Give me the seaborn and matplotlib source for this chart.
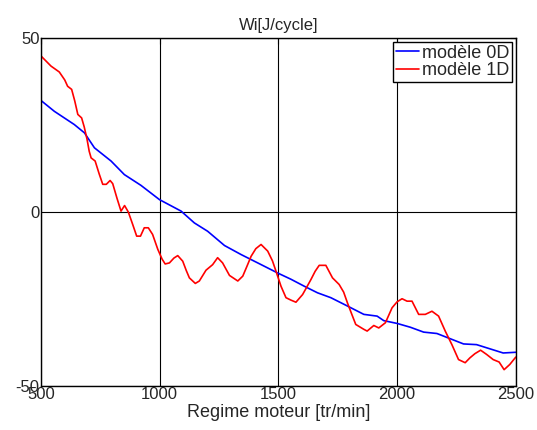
import numpy as np
import pandas as pd
import matplotlib
matplotlib.use("Agg")
import matplotlib.pyplot as plt
import seaborn as sns

# ---------------------------------------------------------
# DATA
# ---------------------------------------------------------

rpm_0d = [500, 556, 640, 683, 725, 795, 851, 921, 999, 1090, 1146, 1202,
          1273, 1343, 1413, 1500, 1553, 1609, 1665, 1721, 1791, 1860, 1916,
          1944, 2000, 2056, 2112, 2168, 2224, 2280, 2335, 2391, 2447, 2500]
wi_0d = [32.1, 29.0, 25.2, 22.8, 18.5, 14.7, 10.8, 7.7, 3.6, 0.3, -3.1, -5.5,
         -9.6, -12.2, -14.6, -17.6, -19.3, -21.3, -23.2, -24.6, -27.0, -29.4,
         -29.9, -31.2, -32.0, -33.1, -34.5, -34.9, -36.4, -37.9, -38.1, -39.3,
         -40.5, -40.3]

rpm_1d = [500, 542, 577, 600, 612, 629, 642, 655, 671, 682, 694, 703, 711,
          728, 745, 760, 775, 791, 802, 820, 837, 852, 868, 886, 903, 919,
          935, 952, 970, 992, 1010, 1023, 1041, 1060, 1076, 1097, 1112, 1125,
          1150, 1167, 1195, 1223, 1244, 1265, 1294, 1329, 1350, 1368, 1385,
          1405, 1427, 1455, 1475, 1490, 1511, 1532, 1553, 1574, 1602, 1620,
          1637, 1655, 1672, 1700, 1728, 1756, 1775, 1791, 1810, 1826, 1860,
          1874, 1902, 1923, 1951, 1979, 2000, 2021, 2042, 2063, 2091, 2119,
          2147, 2175, 2203, 2231, 2259, 2287, 2307, 2328, 2352, 2377, 2405,
          2430, 2451, 2475, 2500]
wi_1d = [44.9, 42.0, 40.3, 38.0, 36.2, 35.3, 32.0, 28.1, 27.1, 24.5, 20.9,
         17.5, 15.6, 14.7, 11.0, 8.0, 8.0, 9.1, 8.2, 4.0, 0.3, 1.9, 0.0,
         -3.5, -6.9, -6.9, -4.5, -4.5, -6.4, -10.7, -13.5, -14.9, -14.6,
         -13.2, -12.5, -14.1, -16.8, -18.9, -20.5, -19.8, -16.7, -15.1, -13.1,
         -14.6, -18.2, -19.8, -18.4, -15.5, -12.7, -10.5, -9.3, -11.2, -14.0,
         -17.0, -21.3, -24.6, -25.3, -25.9, -23.7, -21.5, -19.4, -17.0, -15.3,
         -15.3, -18.9, -20.8, -23.0, -26.1, -29.5, -32.3, -33.7, -34.2, -32.6,
         -33.3, -31.8, -27.5, -25.8, -24.9, -25.6, -25.6, -29.4, -29.4, -28.5,
         -29.9, -34.2, -38.1, -42.4, -43.3, -41.9, -40.7, -39.7, -40.9, -42.4,
         -43.1, -45.3, -43.8, -41.7]

x_ticks = [500, 1000, 1500, 2000, 2500]
y_ticks = [-50, 0, 50]

df0 = pd.DataFrame({"rpm": rpm_0d, "wi": wi_0d})
df1 = pd.DataFrame({"rpm": rpm_1d, "wi": wi_1d})

# ---------------------------------------------------------
# PLOT
# ---------------------------------------------------------

sns.set_style("white")
plt.rcParams["font.family"] = ["Liberation Sans", "DejaVu Sans"]
plt.rcParams["axes.unicode_minus"] = False

fig = plt.figure(figsize=(5.37, 4.30), dpi=100)
ax = fig.add_axes([0.0764, 0.1023, 0.884, 0.8087])

sns.lineplot(data=df0, x="rpm", y="wi", sort=False, color="#0000ff",
             lw=1.2, label="modèle 0D", ax=ax)
sns.lineplot(data=df1, x="rpm", y="wi", sort=False, color="#ff0000",
             lw=1.2, label="modèle 1D", ax=ax)

ax.set_xlim(500, 2500)
ax.set_ylim(-50, 50)
ax.set_xticks(x_ticks)
ax.set_yticks(y_ticks)
ax.grid(True, color="black", lw=0.8, ls="-")
ax.set_axisbelow(True)
ax.tick_params(direction="in", length=4, labelsize=12, pad=1,
               top=True, right=True, color="black")
for s in ax.spines.values():
    s.set_color("black")
    s.set_linewidth(1.0)

ax.set_title("Wi[J/cycle]", fontsize=12, pad=6)
ax.set_xlabel("Regime moteur [tr/min]", fontsize=13, labelpad=1)
ax.set_ylabel("")

leg = ax.legend(loc="upper right", fontsize=13, frameon=True, fancybox=False,
                handlelength=1.3, handletextpad=0.15, borderpad=0.15,
                labelspacing=0.05, borderaxespad=0.2)
leg.get_frame().set_edgecolor("black")
leg.get_frame().set_linewidth(1.0)
leg.get_frame().set_alpha(1)

fig.savefig("out.png", dpi=100)
